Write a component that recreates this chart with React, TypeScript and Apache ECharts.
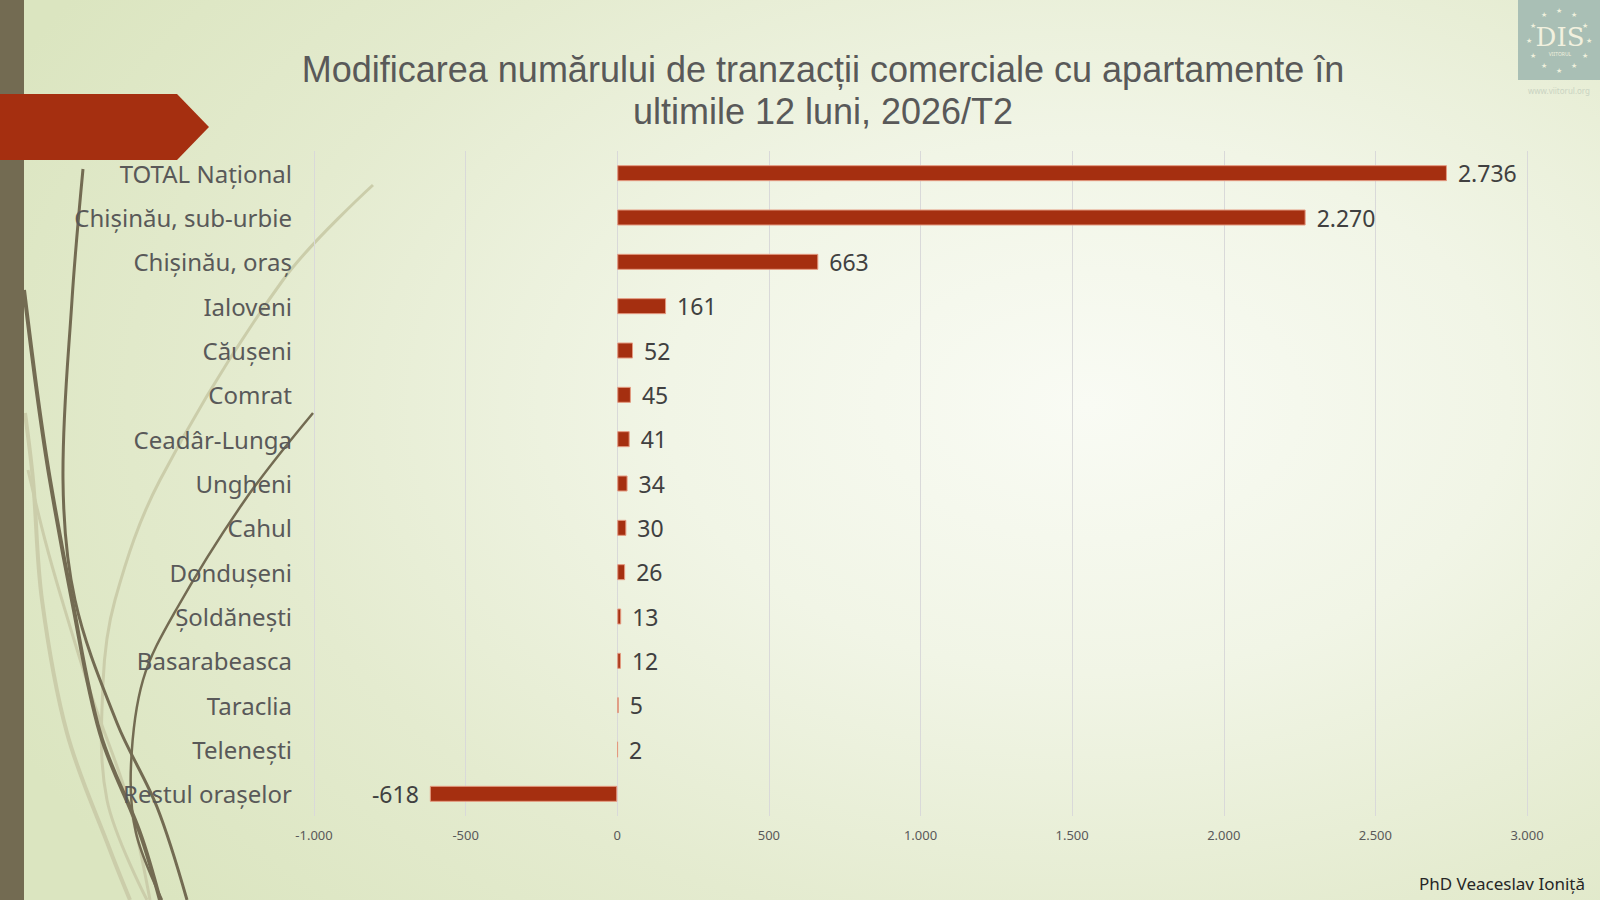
import React, { useEffect, useRef } from "react";
import * as echarts from "echarts";

const categories = [
  "TOTAL Național",
  "Chișinău, sub-urbie",
  "Chișinău, oraș",
  "Ialoveni",
  "Căușeni",
  "Comrat",
  "Ceadâr-Lunga",
  "Ungheni",
  "Cahul",
  "Dondușeni",
  "Șoldănești",
  "Basarabeasca",
  "Taraclia",
  "Telenești",
  "Restul orașelor",
];
const values = [2736, 2270, 663, 161, 52, 45, 41, 34, 30, 26, 13, 12, 5, 2, -618];

const titleLines = [
  "Modificarea numărului de tranzacții comerciale cu apartamente în",
  "ultimile 12 luni, 2026/T2",
];
const author = "PhD Veaceslav Ioniță";

const FONT = "'Noto Sans', 'DejaVu Sans', sans-serif";
const TITLE_FONT = "'Liberation Sans', 'Noto Sans', sans-serif";

function fmt(v: number): string {
  const neg = v < 0;
  const s = String(Math.abs(Math.round(v)));
  const out = s.replace(/\B(?=(\d{3})+(?!\d))/g, ".");
  return (neg ? "-" : "") + out;
}

const DARK = "#736b52";
const LIGHT = "#cbcdaa";

export default function App() {
  const ref = useRef<HTMLDivElement>(null);
  useEffect(() => {
    document.body.style.margin = "0";
    if (!ref.current) return;
    const chart = echarts.init(ref.current, null, { renderer: "svg" });

    const curve = (pts: number[][], color: string, w: number, z = 0) => ({
      type: "polyline",
      silent: true,
      z,
      shape: { points: pts, smooth: 0.35 },
      style: { stroke: color, lineWidth: w, fill: null },
    });

    const stars: any[] = [];
    const cx = 1559, cy = 40, r = 30;
    for (let i = 0; i < 12; i++) {
      const a = (i / 12) * Math.PI * 2;
      stars.push({
        type: "text",
        silent: true,
        z: 6,
        style: {
          x: cx + Math.cos(a) * r,
          y: cy + Math.sin(a) * r,
          text: "★",
          fontSize: 7,
          fill: "#eef0dc",
          align: "center",
          verticalAlign: "middle",
        },
      });
    }

    const titleStyle = {
      fontFamily: TITLE_FONT,
      fontSize: 36,
      fontWeight: "normal",
      color: "#595959",
      lineHeight: 40,
    };

    chart.setOption({
      animation: false,
      grid: { left: 314, right: 73, top: 151, bottom: 84, containLabel: false },
      title: [
        { text: titleLines[0], left: 818, top: 44, textAlign: "center", textStyle: titleStyle },
        { text: titleLines[1], left: 818, top: 86, textAlign: "center", textStyle: titleStyle },
      ],
      xAxis: {
        type: "value",
        min: -1000,
        max: 3000,
        interval: 500,
        axisLine: { show: false },
        axisTick: { show: false },
        splitLine: { show: true, lineStyle: { color: "#d9d9d9", width: 1 } },
        axisLabel: {
          formatter: (v: number) => fmt(v),
          fontFamily: FONT,
          fontSize: 13,
          color: "#595959",
          margin: 12,
        },
      },
      yAxis: {
        type: "category",
        data: categories,
        inverse: true,
        axisLine: { show: false },
        axisTick: { show: false },
        axisLabel: {
          fontFamily: FONT,
          fontSize: 24,
          color: "#595959",
          margin: 22,
        },
      },
      series: [
        {
          type: "bar",
          barWidth: 16,
          data: values.map((v) => ({
            value: v,
            label: { position: v < 0 ? "left" : "right" },
          })),
          itemStyle: { color: "#a52f10", borderColor: "#e49a80", borderWidth: 1 },
          label: {
            show: true,
            distance: 11,
            formatter: (p: any) => fmt(p.value),
            fontFamily: FONT,
            fontSize: 23,
            color: "#404040",
          },
        },
      ],
      graphic: [
        { type: "rect", silent: true, z: 1, shape: { x: 0, y: 0, width: 24, height: 900 }, style: { fill: DARK } },
        curve([[25, 413], [33, 480], [42, 600], [67, 733], [110, 850], [130, 900]], LIGHT, 4),
        curve([[28, 470], [45, 540], [62, 600], [93, 700], [128, 800], [150, 900]], LIGHT, 3),
        curve([[373, 185], [283, 280], [160, 480], [115, 600], [103, 683], [107, 800], [147, 900]], LIGHT, 3),
        curve([[83, 169], [72, 300], [63, 480], [75, 600], [117, 723], [157, 807], [187, 900]], DARK, 3),
        curve([[24, 290], [38, 400], [50, 480], [72, 600], [100, 733], [140, 833], [160, 900]], DARK, 4),
        curve([[313, 413], [245, 500], [176, 610], [143, 680], [131, 765], [136, 833], [162, 900]], DARK, 2.5),
        {
          type: "polygon",
          silent: true,
          z: 2,
          shape: { points: [[0, 94], [177, 94], [209, 127], [177, 160], [0, 160]] },
          style: { fill: "#a52f10" },
        },
        { type: "rect", silent: true, z: 5, shape: { x: 1518, y: 0, width: 82, height: 80 }, style: { fill: "#a9bfb5" } },
        {
          type: "text",
          silent: true,
          z: 6,
          style: {
            x: 1560,
            y: 37,
            text: "DIS",
            fontFamily: "'DejaVu Serif', serif",
            fontSize: 26,
            fill: "#f2f1df",
            align: "center",
            verticalAlign: "middle",
          },
        },
        {
          type: "text",
          silent: true,
          z: 6,
          style: {
            x: 1560,
            y: 54,
            text: "VIITORUL",
            fontFamily: FONT,
            fontSize: 5,
            fill: "#f2f1df",
            align: "center",
            verticalAlign: "middle",
          },
        },
        ...stars,
        {
          type: "text",
          silent: true,
          z: 6,
          style: {
            x: 1559,
            y: 90,
            text: "www.viitorul.org",
            fontFamily: FONT,
            fontSize: 8,
            fill: "#c9d3c2",
            align: "center",
            verticalAlign: "middle",
          },
        },
        {
          type: "text",
          silent: true,
          z: 6,
          style: {
            x: 1585,
            y: 883,
            text: author,
            fontFamily: FONT,
            fontSize: 17,
            fill: "#262626",
            align: "right",
            verticalAlign: "middle",
          },
        },
      ],
    });
    return () => chart.dispose();
  }, []);
  return (
    <div
      ref={ref}
      style={{
        width: 1600,
        height: 900,
        background:
          "radial-gradient(ellipse 75% 85% at 68% 45%, #f9fbf4 0%, #f1f5e6 35%, #e4ebcf 70%, #dbe5c0 100%)",
      }}
    />
  );
}
